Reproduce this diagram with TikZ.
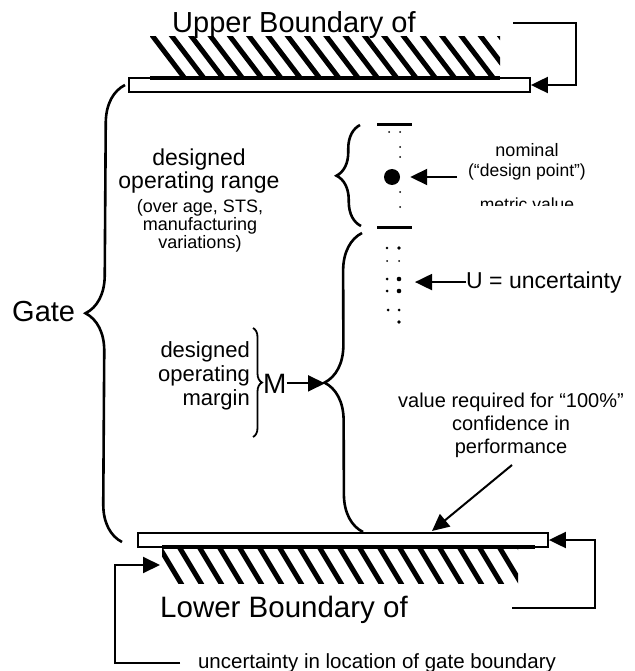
\documentclass[tikz,border=0pt]{standalone}
\usepackage{fontspec}
\setmainfont{Liberation Sans}
\usetikzlibrary{arrows.meta,decorations.pathreplacing}
\tikzset{
  brc/.style={decorate,decoration={brace,amplitude=#1},line width=2.6pt},
  bar/.style={draw,fill=white,line width=1.8pt,inner sep=0pt},
  pointer/.style={-{Triangle[length=17pt,width=16pt]},line width=2pt},
  hatchline/.style={line width=5pt},
  lbl/.style={inner sep=0pt,anchor=base,font=\fontsize{#1}{#1}\selectfont},
}
\begin{document}
\begin{tikzpicture}[x=1pt,y=-1pt]
    \useasboundingbox (0,0) rectangle (634,671);
    % upper boundary
    \node[lbl=29,anchor=base west] (upper) at (172,33) {Upper Boundary of};
    \begin{scope}
      \clip (150,37) rectangle (500,79);
      \foreach \i in {0,...,19} \draw[hatchline] (148+\i*19.3,30) -- ++(38,50);
    \end{scope}
    \node[bar,minimum width=401pt,minimum height=14pt] (upbar) at (329.5,85) {};
    \draw[line width=3.5pt] (150,78) -- (500,78);
    \coordinate (upTail) at (513,23);
    \coordinate (upTurn) at (576,85);
    \draw[pointer] (upTail) -| (upTurn) -- (upbar.east);
    % gate
    \node[lbl=29,anchor=base west] (gate) at (12,321) {Gate};
    \coordinate (gateTop) at (125,85);
    \coordinate (gateBot) at (122,542);
    \draw[brc=38] (gateBot) -- (gateTop);
    % designed operating range
    \node[lbl=23] (rng1) at (199,165) {designed};
    \node[lbl=23] (rng2) at (199,189) {operating range};
    \node[lbl=18] (rng3) at (200,212) {(over age, STS,};
    \node[lbl=18] (rng4) at (200,230) {manufacturing};
    \node[lbl=18] (rng5) at (200,248) {variations)};
    \coordinate (rngTop) at (360,125);
    \coordinate (rngBot) at (361,226);
    \draw[brc=24] (rngBot) -- (rngTop);
    \draw[line width=3pt] (377,125) -- (412,125);
    \draw[line width=3pt] (377,227) -- (412,227);
    \foreach \py in {132,147,157,192,207} \fill (400,\py) circle (1);
    \fill (389,132) circle (1);
    % nominal
    \node[circle,fill,inner sep=0pt,minimum size=16pt] (nomdot) at (392,177) {};
    \node[lbl=18] (nom1) at (527,157) {nominal};
    \node[lbl=17.5] (nom2) at (527,176) {(“design point”)};
    \coordinate (nomTail) at (457,177);
    \draw[pointer,shorten >=10pt] (nomTail) -- (nomdot.east);
    \begin{scope}
      \clip (460,190) rectangle (600,205);
      \node[lbl=17.5] (metric) at (527,210) {metric value};
    \end{scope}
    % uncertainty
    \foreach \px/\py/\r in {387/248/1.3, 399/248/1.8, 387/261/1, 399/261/1,
      387/279/1.5, 399/279/2.3, 387/291/1.5, 399/291/2.3,
      388/310/1.5, 399/310/1.5, 399/322/1.8}
      \fill (\px,\py) circle (\r);
    \node[lbl=23,anchor=base west] (unc) at (466,288) {U = uncertainty};
    \coordinate (uncTip) at (415,280);
    \draw[pointer] (unc.west) -- (unc.west -| uncTip);
    % designed operating margin
    \node[lbl=22,anchor=base east] (mar1) at (250,357) {designed};
    \node[lbl=22,anchor=base east] (mar2) at (250,381) {operating};
    \node[lbl=22,anchor=base east] (mar3) at (250,405) {margin};
    \coordinate (marTop) at (253,328);
    \coordinate (marBot) at (253,437);
    \draw[brc=9,line width=1.8pt] (marTop) -- (marBot);
    \node[lbl=28,anchor=base west] (mLabel) at (263,393) {M};
    \coordinate (lowTop) at (362,233);
    \coordinate (lowBot) at (363,532);
    \coordinate (lowTip) at (325,382);
    \draw[brc=38] (lowBot) -- (lowTop);
    \draw[pointer] (mLabel.east) -- (mLabel.east -| lowTip);
    % value required
    \node[lbl=20] (req1) at (511,407) {value required for “100\%”};
    \node[lbl=20] (req2) at (511,430) {confidence in};
    \node[lbl=20] (req3) at (511,453) {performance};
    \coordinate (reqTail) at (512,465);
    \coordinate (reqTip) at (432,531);
    \draw[pointer] (reqTail) -- (reqTip);
    % lower boundary
    \begin{scope}
      \clip (162,546) rectangle (518,583);
      \foreach \i in {0,...,19} \draw[hatchline] (152+\i*20,535) -- ++(30,50);
    \end{scope}
    \node[bar,minimum width=410pt,minimum height=14pt] (lowbar) at (343,540) {};
    \draw[line width=4pt] (162,547) -- (535,547);
    \coordinate (lowRTail) at (512,608);
    \coordinate (lowRTurn) at (595,540);
    \draw[pointer] (lowRTail) -| (lowRTurn) -- (lowbar.east);
    \node[lbl=29.5,anchor=base west] (lower) at (160,617) {Lower Boundary of};
    \coordinate (lowLTail) at (180,663);
    \coordinate (lowLTurn) at (115,565);
    \coordinate (hatchCorner) at (160,565);
    \draw[pointer] (lowLTail) -| (lowLTurn) -- (hatchCorner);
    \node[lbl=20.5] (locunc) at (377,668) {uncertainty in location of gate boundary};
\end{tikzpicture}
\end{document}
